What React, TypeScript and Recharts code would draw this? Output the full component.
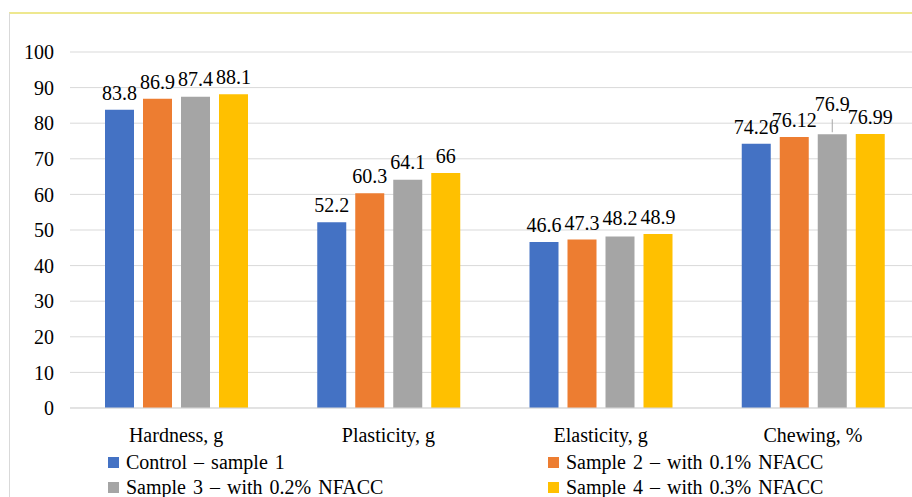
import { Bar, BarChart, CartesianGrid, LabelList, XAxis, YAxis } from "recharts";

const categories = ["Hardness, g", "Plasticity, g", "Elasticity, g", "Chewing, %"];
const control = [83.8, 52.2, 46.6, 74.26];
const sample2 = [86.9, 60.3, 47.3, 76.12];
const sample3 = [87.4, 64.1, 48.2, 76.9];
const sample4 = [88.1, 66, 48.9, 76.99];
const yTicks = [0, 10, 20, 30, 40, 50, 60, 70, 80, 90, 100];

const series = [
  { key: "s1", name: "Control – sample 1", color: "#4472C4", values: control },
  { key: "s2", name: "Sample 2 – with 0.1% NFACC", color: "#ED7D31", values: sample2 },
  { key: "s3", name: "Sample 3 – with 0.2% NFACC", color: "#A5A5A5", values: sample3 },
  { key: "s4", name: "Sample 4 – with 0.3% NFACC", color: "#FFC000", values: sample4 },
];

const data = categories.map((name, i) => {
  const row: Record<string, string | number> = { name };
  series.forEach((s) => (row[s.key] = s.values[i]));
  return row;
});

const font = "'Liberation Serif', Tinos, 'Times New Roman', 'Noto Serif', 'DejaVu Serif', serif";

// Excel lifted the crowded 76.9 label and joined it to its bar with a leader line
function LiftedLabel(props: any) {
  const { x, y, width, value, index } = props;
  const cx = x + width / 2;
  const lift = index === 3 ? 12 : 0;
  return (
    <g>
      {lift > 0 && <line x1={cx} x2={cx} y1={y - 2} y2={y - lift - 3} stroke="#a6a6a6" />}
      <text x={cx} y={y - 11 - lift} textAnchor="middle" fill="#000" fontSize={20} style={{ fontFamily: font }}>
        {value}
      </text>
    </g>
  );
}

function LegendBox() {
  const cols = [108, 548];
  return (
    <div style={{ position: "absolute", left: 0, top: 450, width: 912, height: 50, fontFamily: font, fontSize: 20, color: "#000" }}>
      {series.map((s, i) => (
        <div
          key={s.key}
          style={{
            position: "absolute",
            left: cols[i % 2],
            top: Math.floor(i / 2) * 25,
            display: "flex",
            alignItems: "center",
            whiteSpace: "nowrap",
            wordSpacing: 2,
            lineHeight: "24px",
          }}
        >
          <span style={{ width: 11, height: 11, background: s.color, display: "inline-block", marginRight: 7 }} />
          {s.name}
        </div>
      ))}
    </div>
  );
}

export default function App() {
  return (
    <div style={{ position: "fixed", left: 0, top: 0, width: 912, height: 497, overflow: "hidden", background: "#fff", fontFamily: font }}>
      <div style={{ position: "absolute", left: 9, top: 12, width: 920, height: 500, borderLeft: "1px solid #d9d9d9", borderTop: "2px solid #eee88f" }} />
      <div style={{ position: "absolute", left: 0, top: 0 }}>
        <BarChart
          width={930}
          height={510}
          data={data}
          margin={{ top: 52, right: 11, left: 0, bottom: 62 }}
          barSize={29}
          barGap={9}
        >
          <CartesianGrid vertical={false} stroke="#d9d9d9" />
          <XAxis
            dataKey="name"
            axisLine={{ stroke: "#d9d9d9" }}
            tickLine={false}
            tick={{ fill: "#000", fontSize: 20, style: { fontFamily: font } }}
            tickMargin={14}
            height={40}
          />
          <YAxis
            domain={[0, 100]}
            ticks={yTicks}
            width={70}
            axisLine={false}
            tickLine={false}
            tickMargin={10}
            tick={{ fill: "#000", fontSize: 20, style: { fontFamily: font } }}
          />
          {series.map((s) => (
            <Bar key={s.key} dataKey={s.key} name={s.name} fill={s.color} isAnimationActive={false}>
              {s.key === "s3" ? (
                <LabelList dataKey={s.key} content={<LiftedLabel />} />
              ) : (
                <LabelList
                  dataKey={s.key}
                  position="top"
                  offset={10}
                  fill="#000"
                  fontSize={20}
                  style={{ fontFamily: font }}
                />
              )}
            </Bar>
          ))}
        </BarChart>
      </div>
      <LegendBox />
    </div>
  );
}
